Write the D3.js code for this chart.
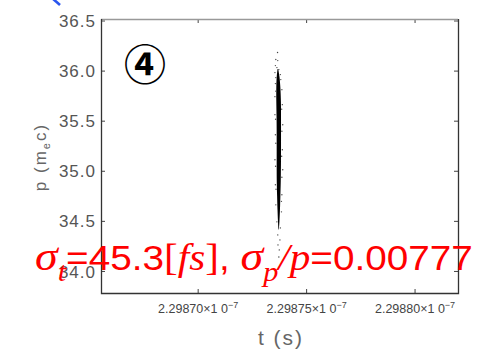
<!DOCTYPE html>
<html>
<head>
<meta charset="utf-8">
<script src="https://cdn.jsdelivr.net/npm/d3@7"></script>
<style>
  html, body { margin: 0; padding: 0; background: #fff; }
  svg { display: block; }
</style>
</head>
<body>
<div id="chart"></div>
<script>
// t in Einheiten von 1e-7 s, p in m_e c
const xTicks = [2.29870, 2.29875, 2.29880];
const yTicks = [34.0, 34.5, 35.0, 35.5, 36.0, 36.5];

// Kern des Bunches: Hüllkurve (p, t links, t rechts)
const coreP     = [36.02, 35.95, 35.85, 35.70, 35.50, 35.30, 35.10, 34.90, 34.75, 34.60, 34.50, 34.42];
const coreTLeft = [2.2987366, 2.2987362, 2.2987360, 2.2987360, 2.2987362, 2.2987362, 2.2987362, 2.2987362, 2.2987364, 2.2987366, 2.2987368, 2.2987370];
const coreTRight= [2.2987369, 2.2987375, 2.2987379, 2.2987382, 2.2987382, 2.2987382, 2.2987382, 2.2987381, 2.2987379, 2.2987377, 2.2987375, 2.2987372];

// vereinzelte Punkte am Rand / an den Enden
const haloT = [2.2987366, 2.2987358, 2.2987367, 2.2987356, 2.2987363, 2.2987372, 2.2987354, 2.2987379, 2.2987358, 2.2987381,
               2.2987356, 2.2987386, 2.2987354, 2.2987388, 2.2987354, 2.2987390, 2.2987356, 2.2987388, 2.2987354, 2.2987390,
               2.2987356, 2.2987386, 2.2987358, 2.2987384, 2.2987363, 2.2987379, 2.2987367, 2.2987377, 2.2987368, 2.2987374, 2.2987372,
               2.2987358, 2.2987385, 2.2987357, 2.2987386, 2.2987358, 2.2987385, 2.2987357, 2.2987386, 2.2987359, 2.2987384];
const haloP = [36.185, 36.115, 36.105, 36.055, 36.035, 36.015, 35.985, 35.965, 35.935, 35.915,
               35.875, 35.815, 35.745, 35.665, 35.565, 35.465, 35.365, 35.215, 35.115, 35.015,
               34.865, 34.765, 34.665, 34.595, 34.495, 34.435, 34.365, 34.315, 34.265, 34.215, 34.145,
               35.800, 35.620, 35.520, 35.400, 35.280, 35.150, 35.050, 34.940, 34.820, 34.700];

const width = 481, height = 354;
const margin = { top: 19, right: 23, bottom: 61, left: 101 };

const svg = d3.select("#chart")
    .append("svg")
    .attr("width", width)
    .attr("height", height);

const x = d3.scaleLinear()
    .domain([2.2986552, 2.2988198])
    .range([margin.left, width - margin.right]);

const y = d3.scaleLinear()
    .domain([33.785, 36.52])
    .range([height - margin.bottom, margin.top]);

const x0 = margin.left, x1 = width - margin.right;
const y0 = height - margin.bottom, y1 = margin.top;

// blauer Strich oben links (Rest eines Pfeils)
svg.append("line")
    .attr("x1", 52).attr("y1", -2).attr("x2", 60).attr("y2", 5)
    .attr("stroke", "#2a55ee").attr("stroke-width", 2.6);

// Ticks innen, auf allen vier Seiten
const tickLen = 4;
const ticks = svg.append("g").attr("stroke", "#444").attr("stroke-width", 1);
xTicks.forEach(t => {
    ticks.append("line").attr("x1", x(t)).attr("x2", x(t)).attr("y1", y0).attr("y2", y0 - tickLen);
    ticks.append("line").attr("x1", x(t)).attr("x2", x(t)).attr("y1", y1).attr("y2", y1 + tickLen);
});
yTicks.forEach(p => {
    ticks.append("line").attr("x1", x0).attr("x2", x0 + tickLen).attr("y1", y(p)).attr("y2", y(p));
    ticks.append("line").attr("x1", x1).attr("x2", x1 - tickLen).attr("y1", y(p)).attr("y2", y(p));
});

// Rahmen
svg.append("line").attr("x1", x0).attr("x2", x1).attr("y1", y1 + 0.5).attr("y2", y1 + 0.5)
    .attr("stroke", "#999").attr("stroke-width", 1.5);
svg.append("path")
    .attr("d", `M${x0 + 0.5},${y1} V${y0 + 0.5} H${x1 + 0.5} V${y1}`)
    .attr("fill", "none").attr("stroke", "#333").attr("stroke-width", 1.3);

// y-Beschriftung
svg.append("g")
    .selectAll("text")
    .data(yTicks)
    .enter()
    .append("text")
    .attr("x", 96)
    .attr("y", d => y(d))
    .attr("dy", "0.36em")
    .attr("text-anchor", "end")
    .attr("font-family", "Liberation Sans, Arial, sans-serif")
    .attr("font-size", 17)
    .attr("letter-spacing", 1)
    .attr("fill", "#555")
    .text(d => d3.format(".1f")(d));

// x-Beschriftung
const xl = svg.append("g")
    .selectAll("text")
    .data(xTicks)
    .enter()
    .append("text")
    .attr("x", d => x(d))
    .attr("y", 313)
    .attr("text-anchor", "middle")
    .attr("font-family", "Liberation Sans, Arial, sans-serif")
    .attr("font-size", 12.5)
    .attr("fill", "#444");
xl.append("tspan").text(d => d3.format(".5f")(d) + "×1 0");
xl.append("tspan").attr("dy", -5).attr("font-size", 9).text("−7");

// Achsentitel
svg.append("text")
    .attr("x", 281).attr("y", 345)
    .attr("text-anchor", "middle")
    .attr("font-family", "Liberation Sans, Arial, sans-serif")
    .attr("font-size", 21)
    .attr("letter-spacing", 2)
    .attr("fill", "#666")
    .attr("xml:space", "preserve")
    .text("t (s)");

const yl = svg.append("text")
    .attr("transform", "translate(46,157) rotate(-90)")
    .attr("text-anchor", "middle")
    .attr("font-family", "Liberation Sans, Arial, sans-serif")
    .attr("font-size", 17)
    .attr("letter-spacing", 2)
    .attr("fill", "#666");
yl.append("tspan").text("p (m");
yl.append("tspan").attr("font-size", 11).attr("dy", 4).text("e");
yl.append("tspan").attr("dy", -4).text("c)");

// Bunch: Kern als Fläche
const core = coreP.map((p, i) => ({ p, tl: coreTLeft[i], tr: coreTRight[i] }));
svg.append("path")
    .datum(core)
    .attr("fill", "#000")
    .attr("d", d3.area()
        .curve(d3.curveBasis)
        .y(d => y(d.p))
        .x0(d => x(d.tl))
        .x1(d => x(d.tr)));

svg.append("g")
    .selectAll("circle")
    .data(haloT.map((t, i) => ({ t, p: haloP[i] })))
    .enter()
    .append("circle")
    .attr("cx", d => x(d.t))
    .attr("cy", d => y(d.p))
    .attr("r", 0.7)
    .attr("fill", "#444");

// Markierung ④
svg.append("text")
    .attr("x", 145).attr("y", 61)
    .attr("text-anchor", "middle")
    .attr("dominant-baseline", "central")
    .attr("font-family", "Noto Sans CJK JP, DejaVu Sans, sans-serif")
    .attr("font-weight", "bold")
    .attr("font-size", 42)
    .attr("fill", "#000")
    .text("④");

// rote Annotation
const serif = "Liberation Serif, DejaVu Serif, serif";
const sans = "Liberation Sans, Arial, sans-serif";
const note = svg.append("text")
    .attr("x", 35).attr("y", 270)
    .attr("fill", "#ff0000")
    .attr("font-size", 32)
    .attr("xml:space", "preserve");
const seg = (txt, fam, opts = {}) => {
    const s = note.append("tspan").attr("font-family", fam).text(txt);
    if (opts.italic) s.attr("font-style", "italic");
    if (opts.size) s.attr("font-size", opts.size);
    if (opts.dy) s.attr("dy", opts.dy);
    return s;
};
seg("σ", serif, { italic: true, size: 38 });
seg("t", serif, { italic: true, size: 25, dy: 10 });
seg("=45.3", sans, { dy: -10 });
seg("[", serif, { size: 34 });
seg("fs", serif, { italic: true, size: 34 });
seg("]", serif, { size: 34 });
seg(", ", sans);
seg("σ", serif, { italic: true, size: 38 });
seg("p", serif, { italic: true, size: 25, dy: 10 });
seg("/p", serif, { italic: true, size: 34, dy: -10 });
seg("=0.00777", sans);

const bb = note.node().getBBox();
const k = 438 / bb.width;
note.attr("transform", `translate(35,270) scale(${k},1.1) translate(-35,-270)`);
</script>
</body>
</html>
